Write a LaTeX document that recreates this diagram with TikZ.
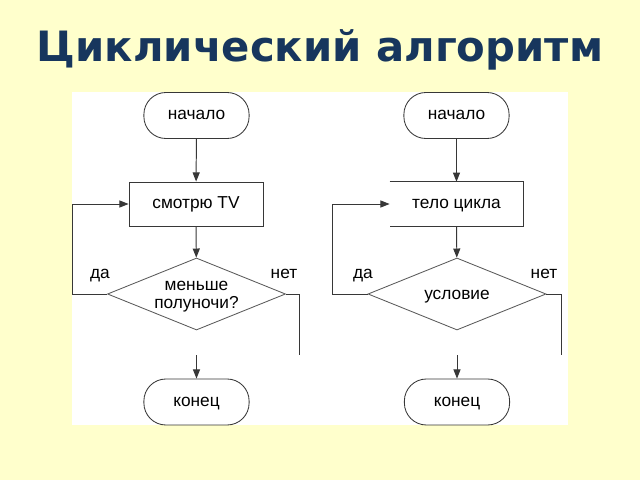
\documentclass[tikz,border=0pt]{standalone}
\usepackage{fontspec}
\setmainfont{Liberation Sans}
\newfontfamily\titlefont{DejaVu Sans}
\usetikzlibrary{shapes.geometric,arrows.meta}
\definecolor{bgyellow}{RGB}{255,255,204}
\definecolor{titleblue}{RGB}{23,54,93}
\definecolor{linegray}{RGB}{55,55,55}
\definecolor{diagray}{RGB}{90,90,90}
\begin{document}
\begin{tikzpicture}[x=0.025cm,y=-0.025cm,
  txt/.style={font=\fontsize{12.3}{13}\selectfont,text=black,inner sep=0pt},
  one/.style={txt,text height=6.3pt,text depth=0pt},
  term/.style={draw=linegray,line width=0.6pt,rounded corners=0.55cm,minimum width=2.63cm,minimum height=1.15cm,one},
  procbox/.style={draw=linegray,line width=0.6pt,minimum width=3.35cm,minimum height=1.1cm,one},
  procopen/.style={minimum width=3.33cm,minimum height=1.1cm,one},
  dia/.style={diamond,draw=diagray,line width=0.6pt,minimum width=4.45cm,minimum height=1.8cm,inner sep=0pt},
  conn/.style={draw=linegray,line width=0.7pt},
  arr/.style={conn,-{Triangle[length=6.5pt,width=5pt]}},
  lbl/.style={one}
]
\useasboundingbox[fill=bgyellow] (0,0) rectangle (640,480);
\fill[white] (72,92) rectangle (568,425);
\node[anchor=base,font=\titlefont\bfseries\fontsize{29.7}{34}\selectfont,text=titleblue] (title) at (320,62) {Циклический алгоритм};

% left flowchart
\node[term] (s1) at (196.5,115.5) {начало};
\node[procbox] (r1) at (196,204) {смотрю TV};
\node[dia] (d1) at (196.5,294) {};
\node[txt,align=center] (d1t) at (196.5,296.5) {меньше\\полуночи?};
\node[term] (e1) at (196.5,402) {конец};
\node[lbl] (y1) at (100,274) {да};
\node[lbl] (n1) at (284,274) {нет};
\coordinate (c1) at (196.5,355);
\coordinate (l1) at (72,294);
\coordinate (q1) at (299,294);
\coordinate (z1) at (299,355);
\draw[arr] (s1) -- (r1);
\draw[arr] (r1) -- (d1);
\draw[arr] (d1.west) -- (l1) |- (r1.west);
\draw[conn] (d1.east) -- (q1) -- (z1);
\draw[arr] (c1) -- (e1);

% right flowchart
\node[term] (s2) at (456.5,115.5) {начало};
\node[procopen] (r2) at (456.5,204) {тело цикла};
\draw[conn] (r2.north west) -- (r2.north east) -- (r2.south east) -- (r2.south west);
\node[dia] (d2) at (457,294) {};
\node[one] (d2t) at (457,295) {условие};
\node[term] (e2) at (457,402) {конец};
\node[lbl] (y2) at (363,274) {да};
\node[lbl] (n2) at (544,274) {нет};
\coordinate (c2) at (457,355);
\coordinate (l2) at (332,294);
\coordinate (q2) at (561,294);
\coordinate (z2) at (561,355);
\draw[arr] (s2) -- (r2);
\draw[arr] (r2) -- (d2);
\draw[arr] (d2.west) -- (l2) |- (r2.west);
\draw[conn] (d2.east) -- (q2) -- (z2);
\draw[arr] (c2) -- (e2);
\end{tikzpicture}
\end{document}
